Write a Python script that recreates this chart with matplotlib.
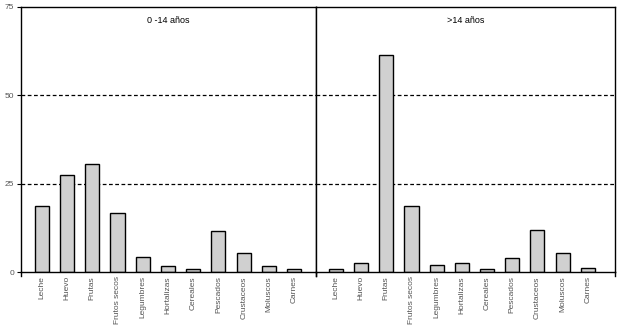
import numpy as np
import matplotlib.pyplot as plt

## Data

categorias = ['Leche', 'Huevo', 'Frutas', 'Frutos secos', 'Legumbres', 'Hortalizas',
              'Cereales', 'Pescados', 'Crustaceos', 'Moluscos', 'Carnes']
ninos = [18.6, 27.4, 30.5, 16.6, 4.2, 1.6, 0.8, 11.5, 5.3, 1.6, 0.8]
adultos = [0.8, 2.5, 61.3, 18.6, 1.9, 2.5, 0.8, 3.9, 11.8, 5.3, 1.2]
titulos = ['0 -14 años', '>14 años']
yticks = [0, 25, 50, 75]

plt.rcParams['font.family'] = ['Liberation Sans', 'DejaVu Sans']

fig, axes = plt.subplots(1, 2, figsize=(6.17, 3.28), dpi=100, sharey=True,
                         gridspec_kw={'width_ratios': [295, 299]})
fig.subplots_adjust(left=0.034, right=0.9968, top=0.9787, bottom=0.1707, wspace=0)

x = np.arange(len(categorias))
gris = '#555555'
limites = [(-0.83, 10.87), (-0.79, 11.08)]

for ax, vals, tit, lim in zip(axes, [ninos, adultos], titulos, limites):
    for g in [25, 50]:
        ax.axhline(g, color='black', lw=0.9, ls=(0, (3, 2)), zorder=1)
    ax.bar(x, vals, width=0.56, color='#d0d0d0', edgecolor='black', lw=1, zorder=2)
    ax.set_ylim(0, 75)
    ax.set_xlim(*lim)
    ax.set_xticks(x)
    ax.set_xticklabels(categorias, rotation=90, fontsize=6, color=gris)
    ax.tick_params(axis='x', length=0, pad=3)
    ax.text(0.5, 0.95, tit, transform=ax.transAxes, ha='center', va='center', fontsize=6.5)
    for s in ax.spines.values():
        s.set_color('black')
        s.set_linewidth(1)
    # small marks below the axis at the panel edges
    ax.plot([0, 0], [0, -0.015], transform=ax.transAxes, color='black', lw=1, clip_on=False)
    ax.plot([1, 1], [0, -0.015], transform=ax.transAxes, color='black', lw=1, clip_on=False)

axes[0].set_yticks(yticks)
axes[0].tick_params(axis='y', length=3, labelsize=6, labelcolor=gris, pad=2)
axes[1].tick_params(axis='y', length=0)

plt.savefig('out.png', dpi=100)
